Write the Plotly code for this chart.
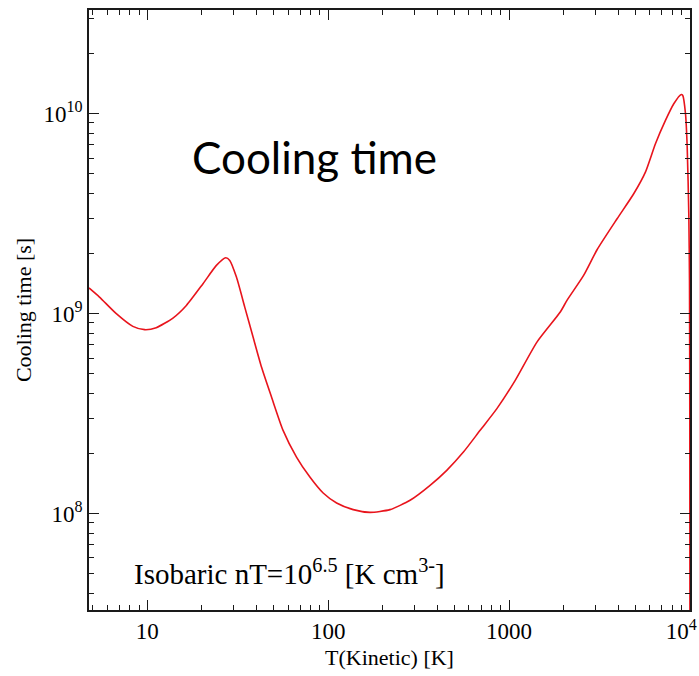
import plotly.graph_objects as go

# Temperature (K) and cooling time (s)
temperature = [4.76, 5.44, 6.74, 8.32, 9.66, 11.2, 13.86, 16.44, 20.32, 24.1,
               27.14, 28.56, 31.1, 34.57, 38.43, 42.78, 48.6, 56.3, 66.8, 79.2,
               93.8, 111.3, 137.5, 170.2, 219.6, 283.5, 365.7, 452.3, 559.1, 691.8,
               855.9, 1081, 1425, 1918, 2089, 2582, 3064, 3954, 4885, 5670,
               6442, 7317, 8136, 8941, 9122, 9443, 9650, 9849, 9936, 9975, 9995]
cooling_time = [1.345e9, 1.211e9, 1.0e9, 8.64e8, 8.32e8, 8.51e8, 9.51e8, 1.10e9, 1.413e9, 1.744e9,
                1.905e9, 1.847e9, 1.524e9, 1.079e9, 7.64e8, 5.41e8, 3.83e8, 2.61e8, 1.919e8, 1.524e8,
                1.268e8, 1.13e8, 1.047e8, 1.015e8, 1.047e8, 1.166e8, 1.385e8, 1.647e8, 2.032e8, 2.61e8,
                3.35e8, 4.64e8, 7.21e8, 1.019e9, 1.166e9, 1.554e9, 2.089e9, 2.985e9, 3.98e9, 5.105e9,
                7.08e9, 9.26e9, 1.122e10, 1.249e10, 1.235e10, 1.0e10, 6.81e9, 3.16e9, 1.468e9, 3.17e8, 2.0e7]

x_tickvals = [10, 100, 1000, 10000]
x_ticktext = ["10", "100", "1000", "10<sup>4</sup>&nbsp;&nbsp;&nbsp;"]
y_tickvals = [1e8, 1e9, 1e10]
y_ticktext = ["10<sup>8</sup>", "10<sup>9</sup>", "10<sup>10</sup>"]

x_minor = [m * 10 ** d for d in range(0, 4) for m in range(2, 10) if m * 10 ** d >= 5]
y_minor = [m * 10 ** d for d in range(7, 11) for m in range(2, 10) if 3.3e7 <= m * 10 ** d <= 3.3e10]

serif = "Liberation Serif, Times New Roman, serif"

fig = go.Figure()
fig.add_trace(go.Scatter(x=temperature, y=cooling_time, mode="lines",
                         line=dict(color="#e8141c", width=1.6, shape="spline", smoothing=0.6),
                         showlegend=False))

axis_common = dict(
    type="log", showgrid=False, zeroline=False, automargin=False,
    showline=True, linecolor="#1a1a1a", linewidth=1.5, mirror="allticks",
    ticks="inside", ticklen=10, tickwidth=1.2, tickcolor="#1a1a1a",
    tickfont=dict(family=serif, size=23, color="black"),
)

fig.update_xaxes(
    **axis_common,
    range=[0.6777, 4.0],
    tickmode="array", tickvals=x_tickvals, ticktext=x_ticktext,
    ticklabeloverflow="allow",
    minor=dict(tickmode="array", tickvals=x_minor, ticks="inside", ticklen=5,
               tickwidth=1.2, tickcolor="#1a1a1a", showgrid=False),
    title=dict(text="T(Kinetic) [K]", font=dict(family=serif, size=22, color="black"), standoff=6),
)
fig.update_yaxes(
    **axis_common,
    range=[7.518, 10.519],
    tickmode="array", tickvals=y_tickvals, ticktext=y_ticktext,
    minor=dict(tickmode="array", tickvals=y_minor, ticks="inside", ticklen=5,
               tickwidth=1.2, tickcolor="#1a1a1a", showgrid=False),
    title=dict(text="Cooling time [s]", font=dict(family=serif, size=22, color="black"), standoff=6),
)

fig.add_annotation(x=0.375, y=0.755, xref="paper", yref="paper",
                   xanchor="center", yanchor="middle",
                   text="Cooling time", showarrow=False,
                   font=dict(family="Lato", size=44, color="black"))
fig.add_annotation(x=0.071, y=0.03, xref="paper", yref="paper",
                   xanchor="left", yanchor="bottom",
                   text="Isobaric nT=10<sup>6.5</sup> [K cm<sup>3-</sup>]", showarrow=False,
                   font=dict(family=serif, size=29, color="black"))

fig.update_layout(
    width=699, height=676,
    margin=dict(l=89, r=9, t=10, b=66),
    paper_bgcolor="white", plot_bgcolor="white",
)

fig.write_html("out.html")
